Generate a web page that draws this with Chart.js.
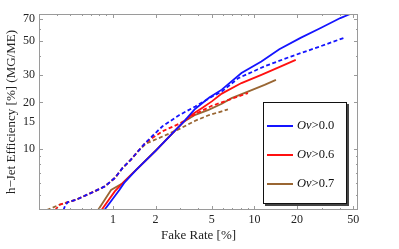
<!DOCTYPE html>
<html>
<head>
<meta charset="utf-8">
<script src="https://cdn.jsdelivr.net/npm/chart.js@4"></script>
<style>
  body { margin: 0; background: #fff; }
  #wrap { position: relative; width: 399px; height: 249px; }
  #legend {
    position: absolute; left: 263px; top: 102px; width: 82px; height: 100px;
    border: 1px solid #111; box-shadow: 2px 2px 0 #444; background: #fff;
    font-family: "Liberation Serif", serif; font-size: 12.5px; color: #111;
  }
  #legend .row { position: absolute; left: 3px; height: 14px; line-height: 14px; white-space: nowrap; }
  #legend .swatch { display: inline-block; width: 26px; height: 0; border-top: 2px solid; vertical-align: middle; margin-right: 4px; }
</style>
</head>
<body>
<div id="wrap">
  <canvas id="c" width="399" height="249"></canvas>
  <div id="legend"></div>
</div>
<script>
// tick labels
const xTicks = [1, 2, 5, 10, 20, 50];
const yTicks = [10, 15, 20, 30, 50, 70];

// Ov > 0.0
const rateSolid00 = [0.87, 1.11, 1.2, 1.46, 2.0, 2.63, 3.17, 3.82, 4.8, 5.88, 8.1, 11.2, 15.0, 21.2, 29.4, 40.5, 49];
const effSolid00 = [4.0, 5.4, 6.0, 7.3, 9.7, 12.6, 15.0, 18.2, 21.5, 24.2, 31, 36.8, 44.3, 52.5, 60.8, 70.6, 75.8];
const rateDash00 = [0.447, 0.46, 0.48, 0.55, 0.725, 0.875, 1.03, 1.17, 1.34, 1.5, 1.71, 1.9, 2.24, 2.93, 3.82, 5.0, 5.88, 7.68, 11.8, 18.1, 29.4, 44];
const effDash00 = [4.0, 4.3, 4.5, 4.67, 5.24, 5.69, 6.45, 7.5, 8.5, 9.6, 11.0, 12.1, 14.0, 16.5, 18.8, 21.8, 23.5, 28.7, 34.3, 39.7, 46.3, 52.9];

// Ov > 0.6
const rateSolid06 = [0.83, 1.03, 1.17, 1.46, 2.0, 2.63, 3.17, 3.6, 4.27, 5.0, 5.88, 8.1, 11.2, 15.4, 19.6];
const effSolid06 = [4.0, 5.28, 5.97, 7.3, 9.7, 12.6, 15.0, 16.6, 18.4, 20.3, 22.8, 26.7, 30.2, 34.3, 37.8];
const rateDash06 = [0.39, 0.42, 0.55, 0.725, 0.875, 1.03, 1.17, 1.34, 1.5, 1.71, 2.24, 2.93, 3.82, 5.0, 5.88, 9.0];
const effDash06 = [4.0, 4.33, 4.67, 5.24, 5.69, 6.45, 7.5, 8.5, 9.6, 11.0, 13.0, 14.5, 16.8, 19.0, 20.0, 23.0];

// Ov > 0.7
const rateSolid07 = [0.785, 0.97, 1.17, 1.38, 2.0, 2.63, 3.17, 3.82, 4.74, 5.88, 6.9, 9.0, 11.8, 14.2];
const effSolid07 = [4.0, 5.4, 5.97, 6.95, 9.7, 12.6, 15.0, 16.6, 17.9, 19.6, 21.3, 23.5, 26, 28];
const rateDash07 = [0.34, 0.42, 0.55, 0.725, 0.875, 1.03, 1.17, 1.34, 1.5, 1.71, 2.24, 2.93, 3.82, 4.74, 5.88, 6.5];
const effDash07 = [4.0, 4.33, 4.67, 5.24, 5.69, 6.45, 7.5, 8.5, 9.6, 10.8, 12.0, 13.4, 15.2, 16.5, 17.5, 18.0];

const cuts = ["0.0", "0.6", "0.7"];
const colors = ["#1414ff", "#ff1010", "#996633"];

const pts = (xs, ys) => xs.map((x, i) => ({ x, y: ys[i] }));

function series(xs, ys, color, dashed) {
  return {
    data: pts(xs, ys),
    borderColor: color,
    borderWidth: 1.8,
    borderDash: dashed ? [4, 2.5] : [],
    showLine: true,
    pointRadius: 0,
    tension: 0,
    fill: false,
  };
}

const datasets = [
  series(rateSolid00, effSolid00, colors[0], false),
  series(rateDash00, effDash00, colors[0], true),
  series(rateSolid06, effSolid06, colors[1], false),
  series(rateDash06, effDash06, colors[1], true),
  series(rateSolid07, effSolid07, colors[2], false),
  series(rateDash07, effDash07, colors[2], true),
];

// frame with inward ticks on all four sides
const frame = {
  id: "frame",
  afterDraw(chart) {
    const { ctx, chartArea: a, scales } = chart;
    ctx.save();
    ctx.strokeStyle = "#9a9a9a";
    ctx.lineWidth = 1;
    ctx.strokeRect(a.left + 0.5, a.top + 0.5, a.right - a.left - 1, a.bottom - a.top - 1);
    ctx.beginPath();
    for (let d = -1; d <= 2; d++) {
      for (let k = 1; k <= 9; k++) {
        const v = k * Math.pow(10, d);
        const xp = scales.x.getPixelForValue(v);
        if (xp > a.left + 1 && xp < a.right - 1) {
          const len = xTicks.includes(v) ? 4 : 2;
          const px = Math.round(xp) + 0.5;
          ctx.moveTo(px, a.bottom); ctx.lineTo(px, a.bottom - len);
          ctx.moveTo(px, a.top); ctx.lineTo(px, a.top + len);
        }
        const yp = scales.y.getPixelForValue(v);
        if (yp > a.top + 1 && yp < a.bottom - 1) {
          const len = yTicks.includes(v) ? 4 : 2;
          const py = Math.round(yp) + 0.5;
          ctx.moveTo(a.left, py); ctx.lineTo(a.left + len, py);
          ctx.moveTo(a.right, py); ctx.lineTo(a.right - len, py);
        }
      }
    }
    ctx.stroke();
    ctx.restore();
  },
};

const tickFont = { family: "Liberation Serif", size: 12 };
const titleFont = { family: "Liberation Serif", size: 13, lineHeight: 1.2 };

new Chart(document.getElementById("c"), {
  type: "scatter",
  data: { datasets },
  options: {
    responsive: false,
    animation: false,
    layout: { padding: { top: 14, right: 41, left: 0, bottom: 0 } },
    plugins: { legend: { display: false }, tooltip: { enabled: false } },
    scales: {
      x: {
        type: "logarithmic",
        min: 0.32,
        max: 54,
        grid: { display: false, drawTicks: false },
        border: { display: false },
        afterBuildTicks: (s) => { s.ticks = xTicks.map((v) => ({ value: v })); },
        afterFit: (s) => { s.height = 39; },
        ticks: { font: tickFont, color: "#222", padding: 3, maxRotation: 0, callback: (v) => String(v) },
        title: { display: true, text: "Fake Rate [%]", font: titleFont, color: "#222", padding: 6 },
      },
      y: {
        type: "logarithmic",
        min: 4.0,
        max: 75,
        grid: { display: false, drawTicks: false },
        border: { display: false },
        afterBuildTicks: (s) => { s.ticks = yTicks.map((v) => ({ value: v })); },
        afterFit: (s) => { s.width = 39; },
        ticks: { font: tickFont, color: "#222", padding: 4, callback: (v) => String(v) },
        title: { display: true, text: "h\u2212Jet Efficiency [%] (MG/ME)", font: titleFont, color: "#222", padding: 4 },
      },
    },
  },
  plugins: [frame],
});

// legend (solid line per cut)
const legend = document.getElementById("legend");
cuts.forEach((c, i) => {
  const row = document.createElement("div");
  row.className = "row";
  row.style.top = (15 + i * 29) + "px";
  row.innerHTML = '<span class="swatch" style="border-color:' + colors[i] + '"></span><i>Ov</i>&gt;' + c;
  legend.appendChild(row);
});
</script>
</body>
</html>
